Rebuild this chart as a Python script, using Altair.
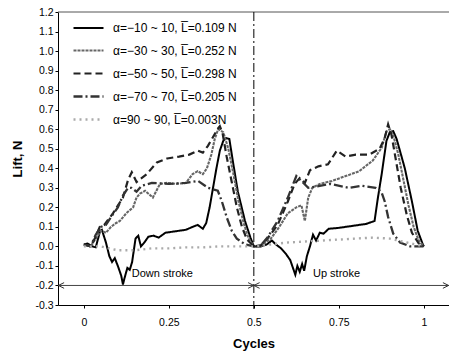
import altair as alt
import pandas as pd

# ---- data ----
series_names = [
    "\u03b1=\u221210 ~ 10, L\u0305=0.109 N",
    "\u03b1=\u221230 ~ 30, L\u0305=0.252 N",
    "\u03b1=\u221250 ~ 50, L\u0305=0.298 N",
    "\u03b1=\u221270 ~ 70, L\u0305=0.205 N",
    "\u03b1=90 ~ 90, L\u0305=0.003N",
]

a_x = [0.0, 0.01, 0.025, 0.035, 0.048, 0.053, 0.065, 0.075, 0.083, 0.091, 0.1, 0.11, 0.115, 0.12,
       0.128, 0.135, 0.142, 0.152, 0.16, 0.168, 0.178, 0.19, 0.205, 0.22, 0.24, 0.26, 0.28, 0.3,
       0.32, 0.335, 0.35, 0.36, 0.37, 0.38, 0.39, 0.4, 0.41, 0.418, 0.428, 0.437, 0.453, 0.474,
       0.49, 0.5, 0.52, 0.538, 0.553, 0.565, 0.58, 0.595, 0.607, 0.615, 0.622, 0.628, 0.635,
       0.642, 0.648, 0.656, 0.665, 0.674, 0.683, 0.694, 0.705, 0.72, 0.75, 0.79, 0.83, 0.855,
       0.865, 0.876, 0.89, 0.9, 0.91, 0.92, 0.944, 0.965, 0.982, 0.997, 1.0]
a_y = [0.01, 0.015, 0.0, -0.005, 0.08, 0.085, 0.02, -0.05, -0.08, -0.06, -0.1, -0.15, -0.195, -0.16,
       -0.11, -0.12, -0.08, 0.04, 0.055, 0.0, 0.02, 0.05, 0.055, 0.045, 0.07, 0.075, 0.08, 0.085,
       0.1, 0.11, 0.09, 0.12, 0.2, 0.3, 0.4, 0.49, 0.54, 0.555, 0.55, 0.45, 0.28, 0.13,
       0.045, 0.0, 0.0, 0.01, 0.03, 0.01, -0.01, -0.04, -0.07, -0.11, -0.145, -0.1, -0.13,
       -0.09, -0.125, -0.05, 0.0, 0.06, 0.03, 0.07, 0.065, 0.09, 0.095, 0.105, 0.115, 0.13,
       0.25, 0.37, 0.54, 0.585, 0.59, 0.55, 0.4, 0.23, 0.08, 0.01, 0.0]

b_x = [0.0, 0.02, 0.035, 0.05, 0.065, 0.08, 0.095, 0.106, 0.125, 0.145, 0.155, 0.165, 0.18, 0.203,
       0.224, 0.244, 0.27, 0.3, 0.32, 0.335, 0.35, 0.362, 0.375, 0.385, 0.395, 0.41, 0.425,
       0.44, 0.455, 0.47, 0.485, 0.5, 0.52, 0.55, 0.575, 0.6, 0.625, 0.64, 0.65, 0.66, 0.672,
       0.694, 0.73, 0.77, 0.81, 0.85, 0.876, 0.89, 0.9, 0.91, 0.925, 0.94, 0.955, 0.97, 0.985, 1.0]
b_y = [0.01, 0.0, 0.04, 0.08, 0.07, 0.1, 0.12, 0.13, 0.17, 0.2, 0.25, 0.27, 0.285, 0.25,
       0.32, 0.325, 0.32, 0.325, 0.37, 0.385, 0.37, 0.4, 0.47, 0.55, 0.6, 0.585, 0.5,
       0.37, 0.23, 0.12, 0.04, 0.0, 0.0, 0.04, 0.1, 0.17, 0.2, 0.21, 0.13, 0.25, 0.3,
       0.32, 0.335, 0.36, 0.385, 0.44, 0.505, 0.59, 0.6, 0.57, 0.47, 0.34, 0.21, 0.1, 0.03, 0.0]

c_x = [0.0, 0.02, 0.035, 0.047, 0.06, 0.086, 0.115, 0.13, 0.141, 0.155, 0.185, 0.215, 0.245,
       0.28, 0.31, 0.335, 0.35, 0.365, 0.38, 0.393, 0.4, 0.408, 0.42, 0.435, 0.45, 0.465, 0.48,
       0.5, 0.52, 0.54, 0.57, 0.6, 0.62, 0.635, 0.65, 0.665, 0.69, 0.718, 0.744, 0.77, 0.8,
       0.84, 0.87, 0.885, 0.895, 0.905, 0.918, 0.932, 0.95, 0.965, 0.985, 1.0]
c_y = [0.01, 0.0, 0.05, 0.1, 0.11, 0.17, 0.25, 0.34, 0.38, 0.33, 0.37, 0.43, 0.45,
       0.46, 0.47, 0.49, 0.48, 0.515, 0.56, 0.6, 0.615, 0.58, 0.46, 0.33, 0.2, 0.1, 0.035,
       0.0, 0.005, 0.04, 0.11, 0.23, 0.32, 0.35, 0.325, 0.39, 0.41, 0.42, 0.49, 0.46, 0.47,
       0.47, 0.5, 0.555, 0.625, 0.57, 0.44, 0.3, 0.16, 0.07, 0.015, 0.0]

d_x = [0.0, 0.02, 0.035, 0.05, 0.065, 0.08, 0.1, 0.115, 0.13, 0.14, 0.155, 0.17, 0.2, 0.25,
       0.3, 0.336, 0.365, 0.394, 0.406, 0.421, 0.435, 0.45, 0.474, 0.5, 0.52, 0.54, 0.57, 0.6,
       0.625, 0.64, 0.66, 0.694, 0.724, 0.78, 0.818, 0.858, 0.875, 0.885, 0.895, 0.91, 0.93,
       0.96, 1.0]
d_y = [0.01, 0.0, 0.06, 0.1, 0.11, 0.15, 0.2, 0.26, 0.3, 0.3, 0.28, 0.31, 0.325, 0.32,
       0.325, 0.335, 0.3, 0.285, 0.23, 0.145, 0.08, 0.04, 0.01, 0.0, 0.005, 0.045, 0.13, 0.25,
       0.36, 0.335, 0.3, 0.31, 0.32, 0.3, 0.31, 0.3, 0.28, 0.23, 0.15, 0.065, 0.02,
       0.0, 0.0]

e_x = [0.0, 0.05, 0.1, 0.15, 0.2, 0.25, 0.3, 0.35, 0.4, 0.45, 0.5, 0.55, 0.6, 0.65, 0.7,
       0.75, 0.8, 0.85, 0.9, 0.95, 1.0]
e_y = [0.0, 0.0, -0.02, -0.02, -0.01, -0.01, -0.005, -0.005, 0.0, 0.0, 0.0, 0.01, 0.02, 0.025,
       0.03, 0.035, 0.04, 0.045, 0.04, 0.02, 0.0]

x_ticks = [0, 0.25, 0.5, 0.75, 1]
x_tick_labels = ["0", "0.25", "0.5", "0.75", "1"]
y_ticks = [-0.3, -0.2, -0.1, 0.0, 0.1, 0.2, 0.3, 0.4, 0.5, 0.6, 0.7, 0.8, 0.9, 1.0, 1.1, 1.2]
x_domain = [-0.076, 1.074]
y_domain = [-0.3, 1.2]

stroke_labels = ["Down stroke", "Up stroke"]
stroke_label_x = [0.141, 0.674]
stroke_label_y = [-0.14, -0.14]

# ---- build tables ----
rows = []
for name, xs_, ys_ in zip(series_names, [a_x, b_x, c_x, d_x, e_x], [a_y, b_y, c_y, d_y, e_y]):
    for i, (xv, yv) in enumerate(zip(xs_, ys_)):
        rows.append({"series": name, "cycle": xv, "lift": yv, "order": i})
df = pd.DataFrame(rows)

FONT = "Liberation Sans"
xs = alt.Scale(domain=x_domain, nice=False, zero=False)
ys = alt.Scale(domain=y_domain, nice=False, zero=False)

x_label_expr = " : ".join(
    f"datum.value == {v} ? '{t}'" for v, t in zip(x_ticks, x_tick_labels)) + " : ''"

x_axis = alt.Axis(
    values=x_ticks, labelExpr=x_label_expr, title="Cycles", titleFont=FONT, titleFontSize=13,
    titleFontWeight="bold", titleColor="black", titlePadding=10, labelFont=FONT,
    labelFontSize=10.5, labelColor="black", labelPadding=9, tickSize=3, tickColor="black",
    domainColor="black", grid=False, labelOverlap=False)
y_axis = alt.Axis(
    values=y_ticks, labelExpr="replace(format(datum.value, '.1f'), '\u2212', '-')",
    title="Lift, N", titleFont=FONT, titleFontSize=13, titleFontWeight="bold",
    titleColor="black", titlePadding=10, labelFont=FONT, labelFontSize=10.5,
    labelColor="black", labelPadding=2, tickSize=3, tickColor="black",
    domainColor="black", grid=False, labelOverlap=False, labelFlush=False)


def X(field):
    return alt.X(field, scale=xs, axis=x_axis, title="Cycles")


def Y(field):
    return alt.Y(field, scale=ys, axis=y_axis, title="Lift, N")


lines = alt.Chart(df).mark_line(strokeCap="butt", clip=True).encode(
    x=X("cycle:Q"),
    y=Y("lift:Q"),
    order="order:Q",
    color=alt.Color("series:N", scale=alt.Scale(
        domain=series_names, range=["#000000", "#666666", "#222222", "#333333", "#aaaaaa"]),
        legend=alt.Legend(title=None, orient="none", legendX=14, legendY=0,
                          symbolType="stroke", symbolSize=900, labelFont=FONT,
                          labelFontSize=12, labelColor="black", labelOffset=8,
                          rowPadding=-11)),
    strokeDash=alt.StrokeDash("series:N", scale=alt.Scale(
        domain=series_names, range=[[1, 0], [3, 1], [7, 4], [9, 3, 2, 3], [2, 4]]), legend=alt.Legend(title=None)),
    strokeWidth=alt.StrokeWidth("series:N", scale=alt.Scale(
        domain=series_names, range=[2.0, 2.4, 0.9, 0.9, 1.0]), legend=alt.Legend(title=None)),
)

top_rule = alt.Chart(pd.DataFrame({"y": [y_domain[1]]})).mark_rule(
    color="#555555", strokeWidth=1).encode(y=Y("y:Q"))

mid = pd.DataFrame({"x": [0.5], "y": [y_domain[1]], "y2": [y_domain[0] - 0.02]})
mid_rule = alt.Chart(mid).mark_rule(color="black", strokeWidth=1, strokeDash=[9, 3, 2, 3], clip=False).encode(
    x=X("x:Q"), y=Y("y:Q"), y2="y2:Q")

arrow_line = alt.Chart(pd.DataFrame({"x": [x_domain[0]], "x2": [x_domain[1]], "y": [-0.2]})).mark_rule(
    color="#444444", strokeWidth=1).encode(x=X("x:Q"), x2="x2:Q", y=Y("y:Q"))

arrows_df = pd.DataFrame({
    "x": [x_domain[0] + 0.004, 0.497, 0.503, x_domain[1] - 0.004],
    "y": [-0.2, -0.2, -0.2, -0.2],
    "dir": ["l", "r", "l", "r"],
})
left_arrow_shape = "M1,-0.6L-0.2,0L1,0.6"
right_arrow_shape = "M-1,-0.6L0.2,0L-1,0.6"
arrows_l = alt.Chart(arrows_df[arrows_df.dir == "l"]).mark_point(
    shape=left_arrow_shape, filled=False, color="#333333", size=90, strokeWidth=1, opacity=1).encode(
    x=X("x:Q"), y=Y("y:Q"))
arrows_r = alt.Chart(arrows_df[arrows_df.dir == "r"]).mark_point(
    shape=right_arrow_shape, filled=False, color="#333333", size=90, strokeWidth=1, opacity=1).encode(
    x=X("x:Q"), y=Y("y:Q"))

labels_df = pd.DataFrame({"text": stroke_labels, "x": stroke_label_x, "y": stroke_label_y})
labels = alt.Chart(labels_df).mark_text(
    align="left", baseline="middle", font=FONT, fontSize=11, color="black").encode(
    x=X("x:Q"), y=Y("y:Q"), text="text:N")

chart = alt.layer(lines, top_rule, mid_rule, arrow_line, arrows_l, arrows_r, labels).properties(
    width=391, height=293,
    autosize=alt.AutoSizeParams(type="none"),
    padding={"left": 58, "top": 12, "right": 0, "bottom": 52},
    background="white",
).configure_view(stroke=None).configure_axis(labelOverlap=False)

chart.save("out.html", embed_options={"renderer": "svg", "actions": False})
